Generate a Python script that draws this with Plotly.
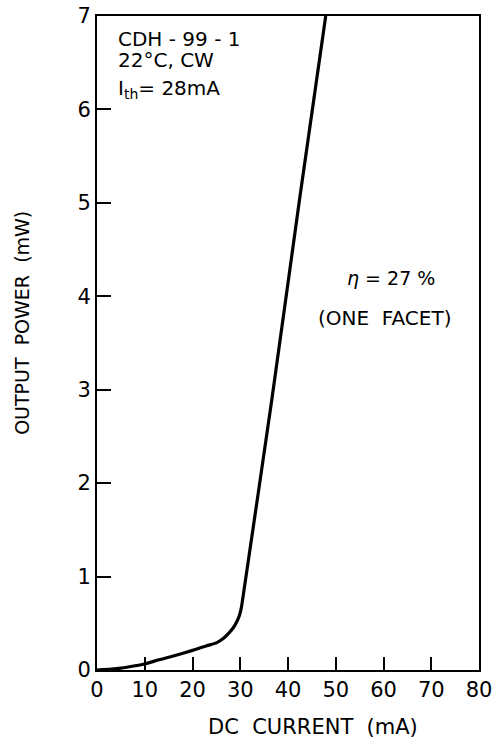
import plotly.graph_objects as go

# L-I characteristic of laser CDH-99-1 (22 °C, CW)
current_ma = [0, 3, 5, 8, 10, 13, 16, 20, 23, 25, 26.5, 27.5, 28.5, 29.3, 29.8, 30.2, 31.0, 36.6, 42.4, 47.9]
power_mw = [0, 0.01, 0.02, 0.045, 0.065, 0.11, 0.15, 0.21, 0.26, 0.29, 0.34, 0.39, 0.45, 0.52, 0.58, 0.66, 0.93, 2.89, 5.03, 7.0]

x_ticks = [0, 10, 20, 30, 40, 50, 60, 70, 80]
y_ticks = [0, 1, 2, 3, 4, 5, 6, 7]

FONT = "DejaVu Sans"
INK = "black"
SP = "\u00a0"

fig = go.Figure()
fig.add_trace(go.Scatter(
    x=current_ma, y=power_mw, mode="lines",
    line=dict(color=INK, width=3.2, shape="spline", smoothing=0.6),
    hoverinfo="skip", showlegend=False,
))

axis_common = dict(
    showgrid=False, zeroline=False, showline=True, linecolor=INK, linewidth=2,
    mirror=True, ticks="inside", tickwidth=2, tickcolor=INK, automargin=False,
    tickfont=dict(family=FONT, size=21, color=INK),
)
fig.update_xaxes(range=[0, 80], tickvals=x_ticks, ticklen=13, **axis_common)
fig.update_yaxes(range=[0, 7], tickvals=y_ticks, ticklen=14, **axis_common)

def note(text, x, y, size=20, xanchor="left", yanchor="middle", xref="x", yref="y"):
    fig.add_annotation(text=text, x=x, y=y, xref=xref, yref=yref, showarrow=False,
                       xanchor=xanchor, yanchor=yanchor,
                       font=dict(family=FONT, size=size, color=INK))

note("CDH - 99 - 1", 3.9, 6.75)
note("22°C, CW", 3.9, 6.53)
note("I<sub>th</sub>= 28mA", 3.9, 6.22)
note("<i>η</i> = 27 %", 61.5, 4.2, size=19, xanchor="center")
note(f"(ONE{SP}{SP}FACET)", 60.3, 3.77, size=20, xanchor="center")

# axis titles
note(f"DC{SP}{SP}CURRENT{SP}{SP}(mA)", 0.565, -0.087, size=21, xanchor="center", xref="paper", yref="paper")
fig.add_annotation(text=f"OUTPUT{SP}{SP}POWER{SP}{SP}(mW)", x=-0.196, y=0.531, xref="paper", yref="paper",
                   showarrow=False, textangle=-90, xanchor="center", yanchor="middle",
                   font=dict(family=FONT, size=19, color=INK))

fig.update_layout(
    width=495, height=742,
    margin=dict(l=97, r=16, t=16, b=72),
    paper_bgcolor="white", plot_bgcolor="white",
)

fig.write_html("out.html")
